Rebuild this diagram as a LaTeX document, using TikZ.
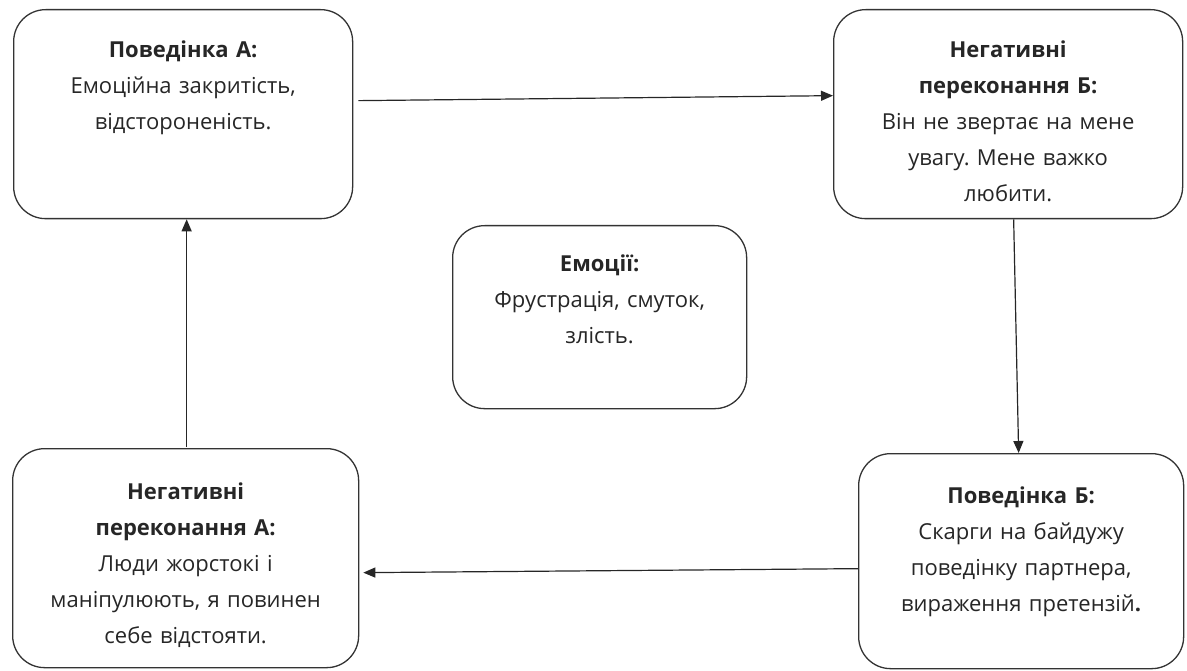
\documentclass[tikz,border=0pt]{standalone}
\usepackage{fontspec}
\setmainfont{Open Sans}
\usepackage{tikz}
\usetikzlibrary{arrows.meta}
\frenchspacing
\tikzset{
    stage/.style={draw=black!80, line width=1.3pt, rounded corners=32pt,
        anchor=north west, align=center, inner xsep=6pt, inner ysep=0pt,
        text=black!85, font=\fontsize{22pt}{36pt}\selectfont, text height=48pt},
    flow/.style={line width=1.2pt, draw=black!85, -{Triangle[length=12pt,width=10pt]}},
}

\begin{document}
\begin{tikzpicture}[x=1pt, y=-1pt]
    \useasboundingbox (0,0) rectangle (1187,671);
    \node[stage, text width=327pt, text depth=161pt] (behA) at (13,9)
        {\textbf{Поведінка А:}\\ Емоційна закритість,\\ відстороненість.};
    \node[stage, text width=337pt, text depth=161pt] (beliefB) at (833,9)
        {\textbf{Негативні}\\ \textbf{переконання Б:}\\ Він не звертає на мене\\ увагу. Мене важко\\ любити.};
    \node[stage, text width=282pt, text depth=137pt, text height=46pt] (emo) at (452,225)
        {\textbf{Емоції:}\\ Фрустрація, смуток,\\ злість.};
    \node[stage, text width=334pt, text depth=168pt, text height=51pt] (beliefA) at (12,448)
        {\textbf{Негативні}\\ \textbf{переконання А:}\\ Люди жорстокі і\\ маніпулюють, я повинен\\ себе відстояти.};
    \node[stage, text width=313pt, text depth=165pt, text height=50pt] (behB) at (858,453)
        {\textbf{Поведінка Б:}\\ Скарги на байдужу\\ поведінку партнера,\\ вираження претензій\textbf{.}};
    % cycle
    \draw[flow] ([shift={(5,-13.5)}]behA.east) -- ([shift={(0,-18.5)}]beliefB.west);
    \draw[flow] ([shift={(5.5,0)}]beliefB.south) -- ([shift={(-2.5,0)}]behB.north);
    \draw[flow] ([shift={(0,7.5)}]behB.west) -- ([shift={(4,14.5)}]beliefA.east);
    \draw[flow] ([shift={(1,-1)}]beliefA.north) -- ([shift={(3.5,0)}]behA.south);
\end{tikzpicture}
\end{document}
